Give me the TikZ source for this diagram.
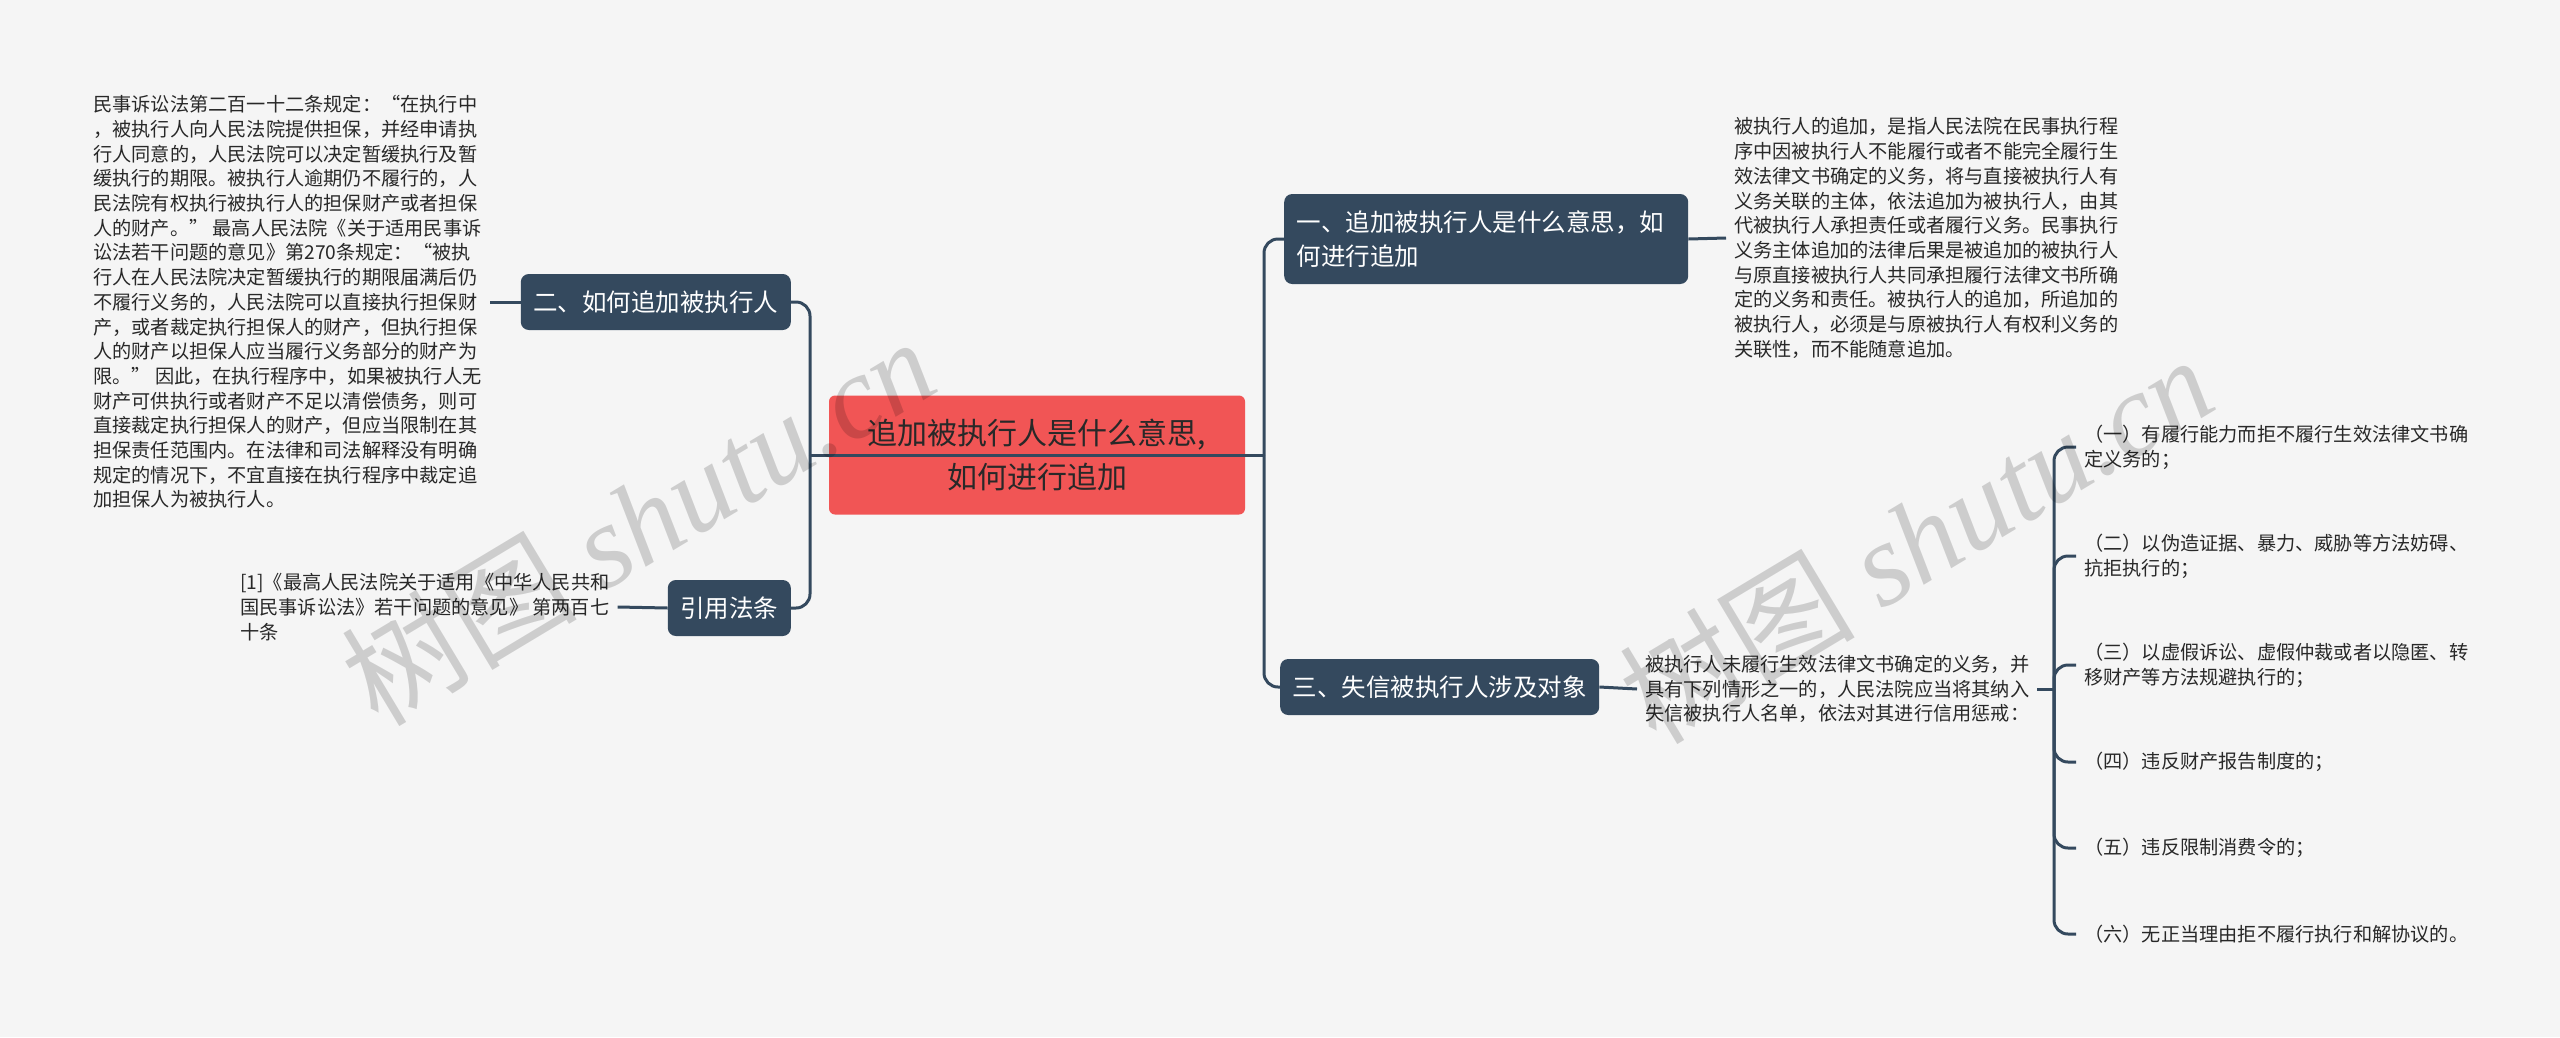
\documentclass[tikz,border=0pt]{standalone}
\usepackage{fontspec}
\setmainfont{Noto Sans CJK SC}
\newfontfamily\wmlatin{Liberation Serif}
\usepackage{xcolor}
\usepackage{tikz}
\usetikzlibrary{positioning,calc}
\definecolor{pagebg}{RGB}{245,245,245}
\definecolor{topicbg}{RGB}{52,73,94}
\definecolor{rootbg}{RGB}{241,85,85}
\definecolor{inktext}{RGB}{40,40,40}
\tikzset{
  rootbox/.style={
    fill=rootbg,
    rounded corners=6pt,
    align=center,
    text=inktext,
    minimum width=416pt,
    minimum height=119pt,
    font=\fontsize{30}{44}\selectfont
  },
  topicbox/.style={
    fill=topicbg,
    rounded corners=8pt,
    text=white,
    inner xsep=12.5pt,
    minimum height=56pt,
    font=\fontsize{24.5}{34}\selectfont
  },
  para/.style={
    align=left,
    text=inktext,
    inner xsep=8pt,
    inner ysep=2pt,
    font=\fontsize{19.2}{24.7}\selectfont
  },
  link/.style={draw=topicbg, line width=3pt},
  elbow/.style={link, rounded corners=14pt},
  wmark/.style={text=black, text opacity=0.16, rotate=31, font=\fontsize{118}{118}\selectfont}
}

\begin{document}
\begin{tikzpicture}[x=1pt, y=-1pt]
  \fill[pagebg] (0,0) rectangle (2560,1037);
  \useasboundingbox (0,0) rectangle (2560,1037);

  \node[rootbox] (root) at (1037,455) {追加被执行人是什么意思,\\如何进行追加};

  \node[topicbox, anchor=east] (howto) at (791,302) {二、如何追加被执行人};
  \node[topicbox, anchor=east] (cite) at (791,608) {引用法条};
  \node[topicbox, anchor=west, align=left, text width=379pt, minimum height=90pt] (meaning) at (1284,239) {一、追加被执行人是什么意思，如\\何进行追加};
  \node[topicbox, anchor=west] (dishonest) at (1280,687) {三、失信被执行人涉及对象};

  \node[para, anchor=west] (howtotext) at (85,302) {民事诉讼法第二百一十二条规定：“在执行中\\，被执行人向人民法院提供担保，并经申请执\\行人同意的，人民法院可以决定暂缓执行及暂\\缓执行的期限。被执行人逾期仍不履行的，人\\民法院有权执行被执行人的担保财产或者担保\\人的财产。” 最高人民法院《关于适用民事诉\\讼法若干问题的意见》第270条规定：“被执\\行人在人民法院决定暂缓执行的期限届满后仍\\不履行义务的，人民法院可以直接执行担保财\\产，或者裁定执行担保人的财产，但执行担保\\人的财产以担保人应当履行义务部分的财产为\\限。” 因此，在执行程序中，如果被执行人无\\财产可供执行或者财产不足以清偿债务，则可\\直接裁定执行担保人的财产，但应当限制在其\\担保责任范围内。在法律和司法解释没有明确\\规定的情况下，不宜直接在执行程序中裁定追\\加担保人为被执行人。};
  \node[para, anchor=west] (citetext) at (232,607) {[1]《最高人民法院关于适用《中华人民共和\\国民事诉讼法》若干问题的意见》 第两百七\\十条};
  \node[para, anchor=west] (meaningtext) at (1726,238) {被执行人的追加，是指人民法院在民事执行程\\序中因被执行人不能履行或者不能完全履行生\\效法律文书确定的义务，将与直接被执行人有\\义务关联的主体，依法追加为被执行人，由其\\代被执行人承担责任或者履行义务。民事执行\\义务主体追加的法律后果是被追加的被执行人\\与原直接被执行人共同承担履行法律文书所确\\定的义务和责任。被执行人的追加，所追加的\\被执行人，必须是与原被执行人有权利义务的\\关联性，而不能随意追加。};
  \node[para, anchor=west] (dishonesttext) at (1637,689) {被执行人未履行生效法律文书确定的义务，并\\具有下列情形之一的，人民法院应当将其纳入\\失信被执行人名单，依法对其进行信用惩戒：};

  \node[para, anchor=west] (case1) at (2076,447) {（一）有履行能力而拒不履行生效法律文书确\\定义务的；};
  \node[para, anchor=west] (case2) at (2076,556) {（二）以伪造证据、暴力、威胁等方法妨碍、\\抗拒执行的；};
  \node[para, anchor=west] (case3) at (2076,665) {（三）以虚假诉讼、虚假仲裁或者以隐匿、转\\移财产等方法规避执行的；};
  \node[para, anchor=west] (case4) at (2076,762) {（四）违反财产报告制度的；};
  \node[para, anchor=west] (case5) at (2076,848) {（五）违反限制消费令的；};
  \node[para, anchor=west] (case6) at (2076,934) {（六）无正当理由拒不履行执行和解协议的。};

  \coordinate (trunkL) at (810,455);
  \coordinate (trunkR) at (1264,455);
  \coordinate (trunkC) at (2054,689);

  \draw[link] (trunkL) -- (trunkR);
  \draw[elbow] (trunkL) |- (howto.east);
  \draw[elbow] (trunkL) |- (cite.east);
  \draw[elbow] (trunkR) |- (meaning.west);
  \draw[elbow] (trunkR) |- (dishonest.west);

  \draw[link] (howto.west) -- (howtotext.east);
  \draw[link] (cite.west) -- (citetext.east);
  \draw[link] (meaning.east) -- (meaningtext.west);
  \draw[link] (dishonest.east) -- (dishonesttext.west);
  \draw[link] (dishonesttext.east) -- (trunkC);
  \foreach \k in {1,...,6}
    \draw[elbow] (trunkC) |- (case\k.west);

  \node[wmark] (mark1) at (638,520) {树图 {\wmlatin\itshape shutu.cn}};
  \node[wmark] (mark2) at (1916,538) {树图 {\wmlatin\itshape shutu.cn}};
\end{tikzpicture}
\end{document}
